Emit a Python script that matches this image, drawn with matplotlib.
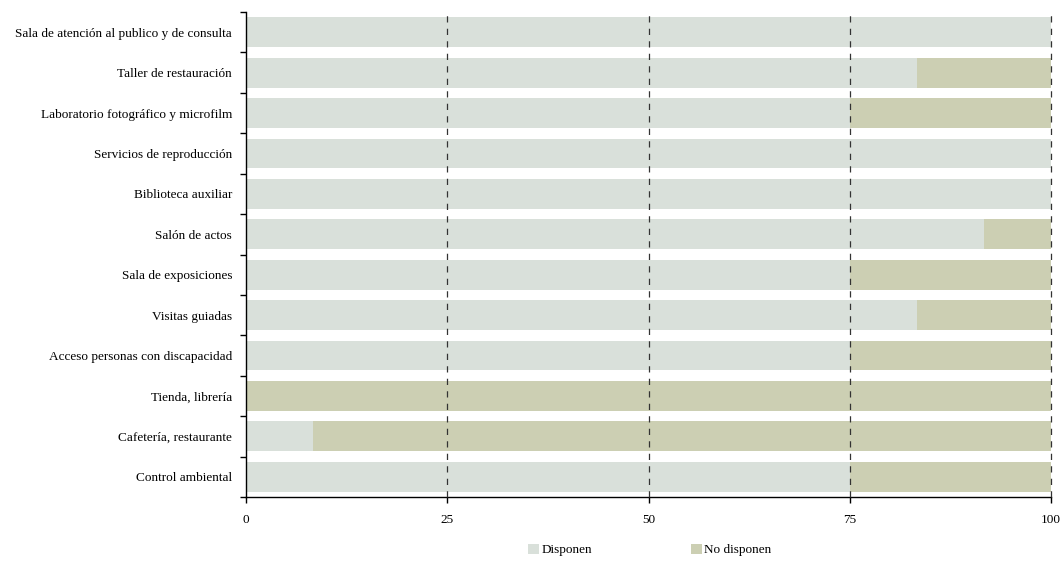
import matplotlib
matplotlib.use("Agg")
import matplotlib.pyplot as plt
from matplotlib.patches import Patch
from matplotlib.ticker import FixedLocator

plt.rcParams['font.family'] = ['Liberation Serif', 'DejaVu Serif']

categories = [
    "Sala de atención al publico y de consulta",
    "Taller de restauración",
    "Laboratorio fotográfico y microfilm",
    "Servicios de reproducción",
    "Biblioteca auxiliar",
    "Salón de actos",
    "Sala de exposiciones",
    "Visitas guiadas",
    "Acceso personas con discapacidad",
    "Tienda, librería",
    "Cafetería, restaurante",
    "Control ambiental",
]
disponen = [100, 83.33, 75, 100, 100, 91.67, 75, 83.33, 75, 0, 8.33, 75]
no_disponen = [0, 16.67, 25, 0, 0, 8.33, 25, 16.67, 25, 100, 91.67, 25]
xticks = [0, 25, 50, 75, 100]

c_disp = "#d9e0da"
c_nodisp = "#cccfb3"

fig = plt.figure(figsize=(10.62, 5.62), dpi=100)
ax = fig.add_axes([246/1062, 1-497/562, (1051-246)/1062, (497-12)/562])

y = list(range(len(categories)))
ax.barh(y, disponen, height=0.74, color=c_disp, zorder=1)
ax.barh(y, no_disponen, left=disponen, height=0.74, color=c_nodisp, zorder=1)

ax.set_xlim(0, 100)
ax.set_ylim(len(categories) - 0.5, -0.5)

for xv in xticks[1:]:
    ax.axvline(xv, color="#333333", lw=0.9, ls=(0, (5, 5)), zorder=3, clip_on=False)

ax.set_yticks(y)
ax.set_yticklabels(categories, fontsize=9.5)
ax.tick_params(axis='y', which='major', length=0, pad=10)
ax.yaxis.set_minor_locator(FixedLocator([i - 0.5 for i in range(len(categories) + 1)]))
ax.tick_params(axis='y', which='minor', length=4, width=1, color='black')

ax.set_xticks(xticks)
ax.set_xticklabels([str(v) for v in xticks], fontsize=9.5)
ax.tick_params(axis='x', length=4, width=1, pad=8)

for s in ['top', 'right']:
    ax.spines[s].set_visible(False)
for s in ['left', 'bottom']:
    ax.spines[s].set_linewidth(1)
    ax.spines[s].set_color('black')

handles = [Patch(facecolor=c_disp, edgecolor='none'), Patch(facecolor=c_nodisp, edgecolor='none')]
fig.legend(handles, ["Disponen", "No disponen"], loc='center', bbox_to_anchor=(650/1062, 12/562),
           ncol=2, frameon=False, fontsize=9.5, handlelength=0.8, handleheight=0.8,
           handletextpad=0.2, columnspacing=7.5)

fig.savefig("out.png", dpi=100)
